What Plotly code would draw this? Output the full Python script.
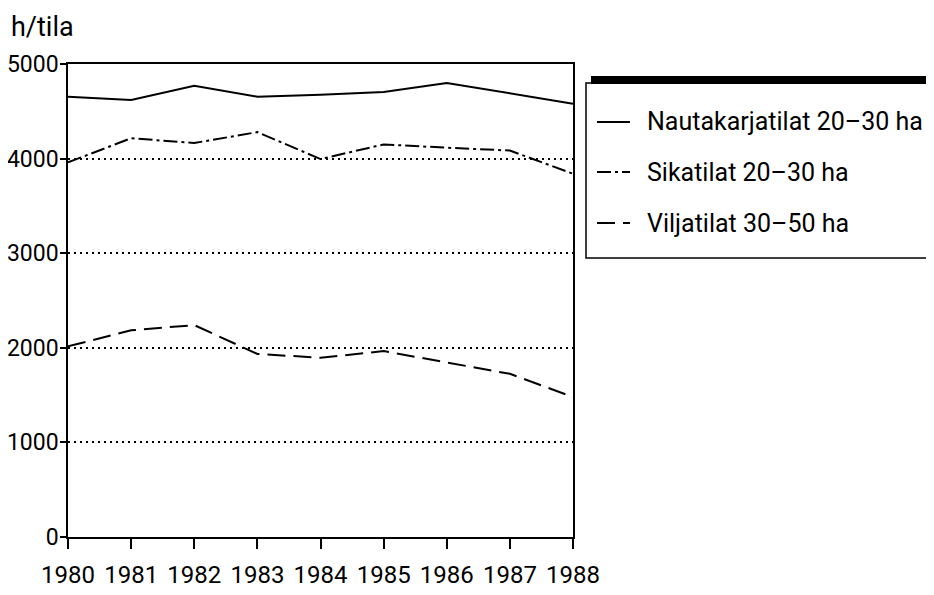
import plotly.graph_objects as go

years = [1980, 1981, 1982, 1983, 1984, 1985, 1986, 1987, 1988]
nauta = [4655, 4620, 4770, 4655, 4675, 4705, 4800, 4690, 4580]
sika = [3960, 4215, 4165, 4280, 3995, 4150, 4115, 4085, 3840]
vilja = [2015, 2185, 2240, 1935, 1895, 1965, 1845, 1725, 1480]
series_names = ["Nautakarjatilat 20\u201330 ha", "Sikatilat 20\u201330 ha", "Viljatilat 30\u201350 ha"]
y_ticks = [0, 1000, 2000, 3000, 4000, 5000]
y_title = "h/tila"

# page body has an 8px margin; work in window pixels and shift
O = 8
W, H = 934 - O, 595 - O
PX0, PX1, PY0, PY1 = 68, 573, 64, 537   # plot area in window pixels
L, T = PX0 - O, PY0 - O
R, B = W - (PX1 - O), H - (PY1 - O)
PW, PH = PX1 - PX0, PY1 - PY0
FONT = "Roboto, sans-serif"
FS = 24

def px(x):
    return (x - PX0) / PW

def py(y):
    return (PY1 - y) / PH

dashes = ["solid", "14px,4px,3px,4px", "18px,8px"]
fig = go.Figure()
for name, vals, d in zip(series_names, [nauta, sika, vilja], dashes):
    fig.add_trace(go.Scatter(x=years, y=vals, mode="lines", name=name,
                             line=dict(color="black", width=2, dash=d),
                             showlegend=False))

shapes = []
annotations = []
# legend shadow bar and box
shapes.append(dict(type="rect", xref="paper", yref="paper",
                   x0=px(591), x1=px(933), y0=py(84), y1=py(76),
                   fillcolor="black", line=dict(width=0)))
shapes.append(dict(type="rect", xref="paper", yref="paper",
                   x0=px(586), x1=px(932), y0=py(258), y1=py(83),
                   fillcolor="rgba(0,0,0,0)", line=dict(color="black", width=1.5)))
rows = [122, 172, 223]
for name, d, ry in zip(series_names, dashes, rows):
    shapes.append(dict(type="line", xref="paper", yref="paper",
                       x0=px(597), x1=px(630), y0=py(ry), y1=py(ry),
                       line=dict(color="black", width=2, dash=d)))
    annotations.append(dict(text=name, xref="paper", yref="paper",
                            x=px(645), y=py(ry), xanchor="left", yanchor="middle",
                            showarrow=False, font=dict(size=25, color="black", family=FONT)))
annotations.append(dict(text=y_title, xref="paper", yref="paper",
                        x=px(9), y=py(9), xanchor="left", yanchor="top",
                        showarrow=False, font=dict(size=27, color="black", family=FONT)))

fig.update_layout(
    width=W, height=H,
    margin=dict(l=L, r=R, t=T, b=B, pad=0, autoexpand=False),
    paper_bgcolor="white", plot_bgcolor="white",
    font=dict(family=FONT, size=FS, color="black"),
    shapes=shapes, annotations=annotations,
    showlegend=False,
)
fig.update_xaxes(range=[1980, 1988], tickvals=years, ticktext=[str(y) for y in years],
                 tickangle=0, automargin=False, ticklabelstandoff=5,
                 showgrid=False, zeroline=False, showline=True, linecolor="black",
                 linewidth=1.5, mirror=True, ticks="outside", ticklen=10, tickwidth=1.5,
                 tickcolor="black", tickfont=dict(size=FS, family=FONT))
fig.update_yaxes(range=[0, 5000], tickvals=y_ticks, ticktext=[str(v) for v in y_ticks],
                 automargin=False, ticklabelstandoff=-3,
                 showgrid=True, gridcolor="black", gridwidth=1.5, griddash="2px,4px",
                 zeroline=False, showline=True, linecolor="black", linewidth=1.5,
                 mirror=True, ticks="outside", ticklen=6, tickwidth=1.5, tickcolor="black",
                 tickfont=dict(size=23, family=FONT))

fig.write_html("out.html")
